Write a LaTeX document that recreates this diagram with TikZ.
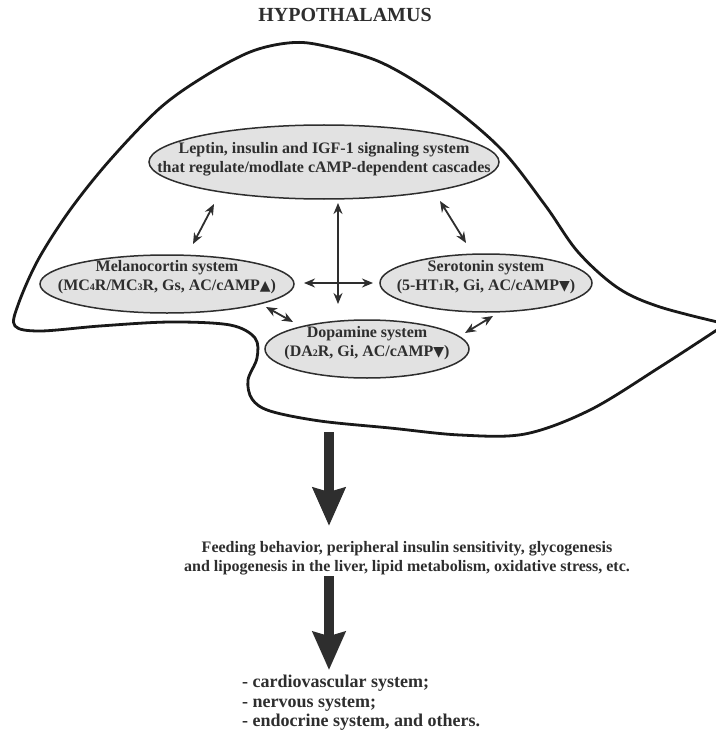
\documentclass[tikz,border=0pt]{standalone}
\usepackage{fontspec}
\setmainfont{Liberation Serif}
\newfontfamily\symf{DejaVu Sans}
\usetikzlibrary{arrows.meta,shapes.geometric}
\definecolor{ink}{HTML}{2E2E2E}
\definecolor{ellfill}{HTML}{E2E2E2}
\newcommand{\sbs}[1]{{\fontsize{10}{10}\selectfont #1}}
\newcommand{\upt}{{\symf\fontsize{14}{14}\selectfont ▲}}
\newcommand{\dnt}{{\symf\fontsize{14}{14}\selectfont ▼}}
\tikzset{
  ell/.style={ellipse, draw=ink, line width=1.5pt, fill=ellfill, inner sep=0pt},
  etxt/.style={font=\fontsize{16}{19}\selectfont\bfseries, text=ink, align=center, inner sep=0pt},
  dbl/.style={{Stealth[length=11pt,width=9pt]}-{Stealth[length=11pt,width=9pt]}, line width=1.8pt, draw=ink},
  big/.style={line width=10pt, draw=ink, -{Stealth[length=38pt,width=32pt,inset=4pt]}},
  outline/.style={draw=black!90, line width=2.8pt, line join=round}
}
\begin{document}
\begin{tikzpicture}[x=1pt,y=-1pt]
\path[fill=white, use as bounding box] (0,0) rectangle (715,738);

% hypothalamus outline
\draw[outline] plot[smooth, tension=0.55] coordinates {
  (726,324) (660,307) (618,288) (578,252) (545,205) (500,148) (440,98)
  (380,62) (320,45) (288,43) (250,52) (205,76) (160,108) (110,160) (70,210)
  (38,260) (18,305) (15,326) (40,331) (100,326) (170,322) (230,325)
  (255,338) (257,358) (248,380) (252,399) (270,411) (320,421) (390,428)
  (460,435) (525,434) (590,410) (660,367) (726,324)};

\node[font=\fontsize{20}{22}\selectfont\bfseries, text=ink] (title) at (345,15) {HYPOTHALAMUS};

% ellipses
\node[ell, minimum width=350pt, minimum height=74pt] (lep) at (324,162) {};
\node[etxt] (leptxt) at (324,159) {Leptin, insulin and IGF-1 signaling system\\that regulate/modlate cAMP-dependent cascades};

\node[ell, minimum width=254pt, minimum height=58pt] (mel) at (167,284) {};
\node[etxt] (meltxt) at (167,277) {Melanocortin system\\(MC\sbs{4}R/MC\sbs{3}R, Gs, AC/cAMP\upt)};

\node[ell, minimum width=212pt, minimum height=58pt] (ser) at (486,283) {};
\node[etxt] (sertxt) at (486,277) {Serotonin system\\(5-HT\sbs{1}R, Gi, AC/cAMP\dnt)};

\node[ell, minimum width=204pt, minimum height=58pt] (dop) at (367,349) {};
\node[etxt] (doptxt) at (367,343) {Dopamine system\\(DA\sbs{2}R, Gi, AC/cAMP\dnt)};

% double arrows
\coordinate (tlA) at (214,204); \coordinate (tlB) at (193,244);
\coordinate (trA) at (440,201); \coordinate (trB) at (466,243);
\coordinate (vA) at (338,203); \coordinate (vB) at (338,304);
\coordinate (hA) at (304,283); \coordinate (hB) at (373,283);
\coordinate (mdA) at (266,307); \coordinate (mdB) at (293,322);
\coordinate (sdA) at (493,316); \coordinate (sdB) at (465,333);
\draw[dbl] (tlA) -- (tlB);
\draw[dbl] (trA) -- (trB);
\draw[dbl] (vA) -- (vB);
\draw[dbl] (hA) -- (hB);
\draw[dbl] (mdA) -- (mdB);
\draw[dbl] (sdA) -- (sdB);

% effects
\node[etxt] (feed) at (407,558) {Feeding behavior, peripheral insulin sensitivity, glycogenesis\\and lipogenesis in the liver, lipid metabolism, oxidative stress, etc.};
\node[etxt, align=left, anchor=west, font=\fontsize{18}{19.5}\selectfont\bfseries] (eff) at (242,703) {- cardiovascular system;\\- nervous system;\\- endocrine system, and others.};

\coordinate (hb) at (329,432);
\draw[big, shorten >=15pt] (hb) -- (feed.north -| hb);
\draw[big, shorten <=1pt, shorten >=5pt] (feed.south -| hb) -- (eff.north -| hb);
\end{tikzpicture}
\end{document}
